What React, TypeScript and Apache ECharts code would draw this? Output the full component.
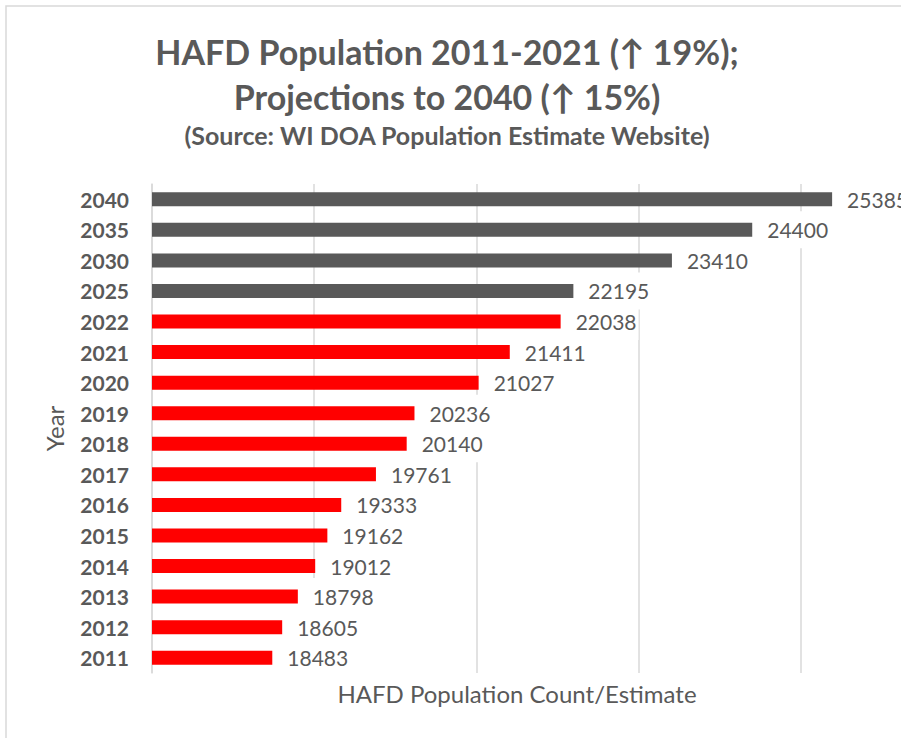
import React, { useEffect, useRef } from "react";
import * as echarts from "echarts";

const years = ["2011", "2012", "2013", "2014", "2015", "2016", "2017", "2018", "2019", "2020", "2021", "2022", "2025", "2030", "2035", "2040"];
const population = [18483, 18605, 18798, 19012, 19162, 19333, 19761, 20140, 20236, 21027, 21411, 22038, 22195, 23410, 24400, 25385];
const kind = ["estimate", "estimate", "estimate", "estimate", "estimate", "estimate", "estimate", "estimate", "estimate", "estimate", "estimate", "estimate", "projection", "projection", "projection", "projection"];

const titleLine1 = "HAFD Population 2011-2021 (↑ 19%);";
const titleLine2 = "Projections to 2040 (↑ 15%)";
const subtitle = "(Source: WI DOA Population Estimate Website)";
const xAxisName = "HAFD Population Count/Estimate";
const yAxisName = "Year";

const axisMin = 17000;
const axisMax = 26000;
const axisStep = 1000;

const FONT = "Lato, 'Open Sans', sans-serif";
const TEXT = "#595959";
const GRID = "#d9d9d9";
const kindColor: Record<string, string> = { estimate: "#ff0000", projection: "#595959" };

export default function App() {
  const ref = useRef<HTMLDivElement>(null);
  useEffect(() => {
    if (!ref.current) return;
    const chart = echarts.init(ref.current, undefined, { renderer: "svg" });
    chart.setOption({
      animation: false,
      backgroundColor: "#ffffff",
      graphic: [
        {
          type: "rect",
          shape: { x: 6, y: 6, width: 1200, height: 1200 },
          style: { fill: "none", stroke: GRID, lineWidth: 1.5 },
          silent: true,
        },
        {
          type: "text",
          x: 447,
          y: 51,
          style: { text: titleLine1, fill: TEXT, font: `bold 34px ${FONT}`, align: "center", verticalAlign: "middle" },
        },
        {
          type: "text",
          x: 447,
          y: 96,
          style: { text: titleLine2, fill: TEXT, font: `bold 34px ${FONT}`, align: "center", verticalAlign: "middle" },
        },
        {
          type: "text",
          x: 447,
          y: 135,
          style: { text: subtitle, fill: TEXT, font: `bold 25px ${FONT}`, align: "center", verticalAlign: "middle" },
        },
      ],
      grid: { left: 152, right: 19, top: 184, bottom: 65, containLabel: false, outerBoundsMode: "none" },
      xAxis: {
        type: "value",
        min: axisMin,
        max: axisMax,
        interval: axisStep,
        axisLabel: { show: false },
        axisLine: { show: false },
        axisTick: { show: false },
        splitLine: { show: true, lineStyle: { color: [GRID, "rgba(0,0,0,0)"], width: 1.5 } },
        name: xAxisName,
        nameLocation: "middle",
        nameGap: 8,
        nameTextStyle: { color: TEXT, fontSize: 24, fontFamily: FONT },
      },
      yAxis: {
        type: "category",
        data: years,
        axisLine: { show: true, lineStyle: { color: GRID, width: 1.5 } },
        axisTick: { show: false },
        axisLabel: { color: TEXT, fontSize: 21, fontWeight: "bold", fontFamily: FONT, margin: 23 },
        splitLine: { show: false },
        name: yAxisName,
        nameLocation: "middle",
        nameRotate: 90,
        nameGap: 86,
        nameTextStyle: { color: TEXT, fontSize: 24, fontFamily: FONT },
      },
      series: [
        {
          type: "bar",
          barCategoryGap: "54%",
          data: population.map((v, i) => ({ value: v, itemStyle: { color: kindColor[kind[i]] } })),
          label: {
            show: true,
            position: "right",
            distance: 13,
            color: TEXT,
            fontSize: 21,
            fontFamily: FONT,
            backgroundColor: "#ffffff",
            padding: [8, 2],
          },
        },
      ],
    });
    return () => chart.dispose();
  }, []);
  return (
    <div style={{ position: "fixed", left: 0, top: 0, width: 901, height: 738, background: "#fff", overflow: "hidden" }}>
      <div ref={ref} style={{ width: 901, height: 738 }} />
    </div>
  );
}
